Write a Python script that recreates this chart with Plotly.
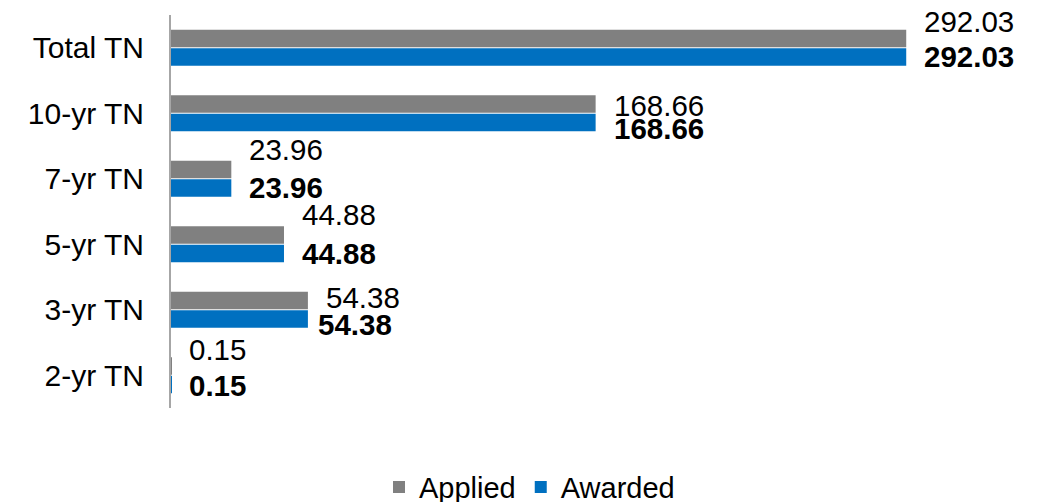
import plotly.graph_objects as go

# ==== dados (leilão TN) ====
categorias = ['Total TN', '10-yr TN', '7-yr TN', '5-yr TN', '3-yr TN', '2-yr TN']
applied = [292.03, 168.66, 23.96, 44.88, 54.38, 0.15]
awarded = [292.03, 168.66, 23.96, 44.88, 54.38, 0.15]

# ajuste manual dos rótulos (px, positivo = para baixo / para a direita)
applied_dy = [-26, -8, -29, -30, -12, -26]
awarded_dy = [9, 15, 9, 9, 15, 10]
awarded_dx = [16, 16, 16, 16, 8, 16]

FONTE = 'Arial, Liberation Sans, sans-serif'
CINZA = '#808080'
AZUL = '#0070C0'

fig = go.Figure()
fig.add_trace(go.Bar(y=categorias, x=applied, name='Applied', orientation='h',
                     marker=dict(color=CINZA, line=dict(width=0))))
fig.add_trace(go.Bar(y=categorias, x=awarded, name='Awarded', orientation='h',
                     marker=dict(color=AZUL, line=dict(width=0))))

anots = []
for i, cat in enumerate(categorias):
    anots.append(dict(x=applied[i], y=cat, xref='x', yref='y', text=f'{applied[i]:.2f}',
                      showarrow=False, xanchor='left', yanchor='middle',
                      xshift=16, yshift=-applied_dy[i],
                      font=dict(family=FONTE, size=29.5, color='black')))
    anots.append(dict(x=awarded[i], y=cat, xref='x', yref='y', text=f'<b>{awarded[i]:.2f}</b>',
                      showarrow=False, xanchor='left', yanchor='middle',
                      xshift=awarded_dx[i], yshift=-awarded_dy[i],
                      font=dict(family=FONTE, size=29.5, color='black')))

# a página tem 8px de margem no body -> figura um pouco menor
fig.update_layout(
    width=1043, height=494,
    barmode='group', bargap=0.44, bargroupgap=0.05,
    plot_bgcolor='white', paper_bgcolor='white',
    margin=dict(l=163, r=24, t=7, b=94, autoexpand=False),
    font=dict(family=FONTE, size=29, color='black'),
    xaxis=dict(range=[0, 340], showgrid=False, zeroline=False, showline=False,
               showticklabels=False, ticks=''),
    yaxis=dict(categoryorder='array', categoryarray=categorias, range=[5.5, -0.5],
               showgrid=False, zeroline=False, showline=True, linecolor='#A6A6A6', linewidth=2,
               ticks='outside', ticklen=0, ticklabelstandoff=19,
               tickfont=dict(family=FONTE, size=30, color='black')),
    showlegend=True,
    legend=dict(orientation='h', xref='container', yref='container', x=0.5, y=0.03,
                xanchor='center', yanchor='middle',
                font=dict(family=FONTE, size=29, color='black')),
    annotations=anots,
)

fig.write_html('out.html')
